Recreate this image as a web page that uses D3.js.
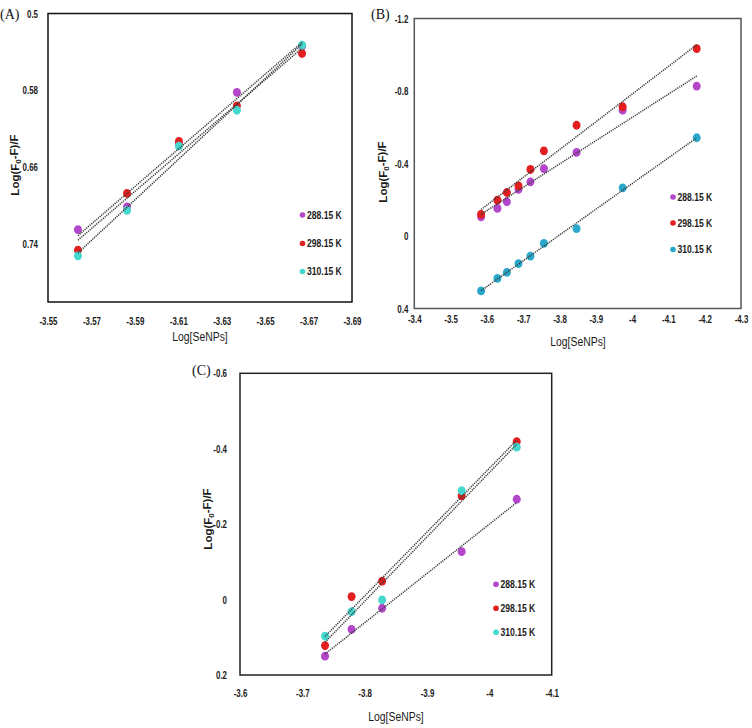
<!DOCTYPE html>
<html>
<head>
<meta charset="utf-8">
<script src="https://cdn.jsdelivr.net/npm/d3@7/dist/d3.min.js"></script>
<style>
  html, body { margin: 0; padding: 0; background: #fff; }
  svg { display: block; }
  .tick text { font-family: "Liberation Sans", Arial, sans-serif; font-weight: bold; font-size: 11px; fill: #1a1a1a; }
</style>
</head>
<body>
<svg id="chart" width="752" height="728"></svg>
<script>
// ---------------- DATA ----------------
const seriesNames = ["288.15 K", "298.15 K", "310.15 K"];

// Panel A
const xA = [-3.5638, -3.5864, -3.6103, -3.637, -3.667];
const yA288 = [0.7248, 0.701, 0.635, 0.582, 0.534];
const yA298 = [0.746, 0.687, 0.633, 0.596, 0.5416];
const yA310 = [0.752, 0.7047, 0.638, 0.6006, 0.533];
const xTicksA = [-3.55, -3.57, -3.59, -3.61, -3.63, -3.65, -3.67, -3.69];
const yTicksA = [0.5, 0.58, 0.66, 0.74];

// Panel B
const xB = [-3.584, -3.629, -3.655, -3.687, -3.72, -3.757, -3.847, -3.974, -4.178];
const yB288 = [-0.106, -0.152, -0.189, -0.257, -0.299, -0.372, -0.461, -0.694, -0.827];
const yB298 = [-0.119, -0.198, -0.24, -0.277, -0.367, -0.47, -0.611, -0.713, -1.034];
const yB310 = [0.303, 0.234, 0.201, 0.152, 0.111, 0.041, -0.041, -0.266, -0.542];
const xTicksB = [-3.4, -3.5, -3.6, -3.7, -3.8, -3.9, -4, -4.1, -4.2, -4.3];
const yTicksB = [-1.2, -0.8, -0.4, 0, 0.4];

// Panel C
const xC = [-3.7364, -3.779, -3.828, -3.9556, -4.0439];
const yC288 = [0.150, 0.079, 0.023, -0.127, -0.266];
const yC298 = [0.122, -0.008, -0.049, -0.275, -0.419];
const yC310 = [0.097, 0.032, 0.001, -0.289, -0.404];
const xTicksC = [-3.6, -3.7, -3.8, -3.9, -4, -4.1];
const yTicksC = [-0.6, -0.4, -0.2, 0, 0.2];

// ---------------- STYLE / LAYOUT ----------------
const sans = '"Liberation Sans", Arial, sans-serif';
const purple = "#B346CB", red = "#E31E1E", turq = "#44D8CF", blue = "#2AA8CB";
const SX = 0.72; // horizontal condensing for the narrow tick font

const panels = [
  { label: "(A)", lx: 0, ly: 19,
    box: {l: 48, r: 352, t: 13.5, b: 302}, xDom: [-3.55, -3.69], yDom: [0.5, 0.8],
    xTicks: xTicksA, yTicks: yTicksA, xPad: 15, yPad: 10, border: "#111",
    x: xA, ys: [yA288, yA298, yA310], colors: [purple, red, turq],
    legend: {x: 302.5, y: [215, 243.5, 271.5]},
    xTitle: {x: 200, y: 336}, yTitle: {x: 15, y: 165} },
  { label: "(B)", lx: 371, ly: 19,
    box: {l: 414.3, r: 741, t: 18.5, b: 308.5}, xDom: [-3.4, -4.3], yDom: [-1.2, 0.4],
    xTicks: xTicksB, yTicks: yTicksB, xPad: 7, yPad: 6, border: "#555",
    x: xB, ys: [yB288, yB298, yB310], colors: [purple, red, blue],
    legend: {x: 673, y: [197, 223, 249.5]},
    xTitle: {x: 578, y: 341}, yTitle: {x: 383, y: 172} },
  { label: "(C)", lx: 192, ly: 375,
    box: {l: 240, r: 551.7, t: 373.3, b: 675}, xDom: [-3.6, -4.1], yDom: [-0.6, 0.2],
    xTicks: xTicksC, yTicks: yTicksC, xPad: 14, yPad: 13, border: "#222",
    x: xC, ys: [yC288, yC298, yC310], colors: [purple, red, turq],
    legend: {x: 496, y: [584.3, 608.3, 632.3]},
    xTitle: {x: 396, y: 716}, yTitle: {x: 208, y: 519} }
];

const svg = d3.select("#chart");

function fit(xs, ys) {
  const n = xs.length, mx = d3.mean(xs), my = d3.mean(ys);
  let sxy = 0, sxx = 0;
  for (let i = 0; i < n; i++) { sxy += (xs[i]-mx)*(ys[i]-my); sxx += (xs[i]-mx)*(xs[i]-mx); }
  const m = sxy / sxx; return { m, c: my - m*mx };
}

panels.forEach(p => {
  const g = svg.append("g");
  const x = d3.scaleLinear().domain(p.xDom).range([p.box.l, p.box.r]);
  const y = d3.scaleLinear().domain(p.yDom).range([p.box.t, p.box.b]);

  // box
  g.append("rect").attr("x", p.box.l).attr("y", p.box.t)
    .attr("width", p.box.r - p.box.l).attr("height", p.box.b - p.box.t)
    .attr("fill", "none").attr("stroke", p.border).attr("stroke-width", 1.5);

  // axes
  const ax = g.append("g").attr("transform", `translate(0,${p.box.b})`)
    .call(d3.axisBottom(x).tickValues(p.xTicks).tickSize(0).tickPadding(p.xPad).tickFormat(d => String(d)));
  ax.select(".domain").remove();
  ax.selectAll(".tick text").attr("transform", `scale(${SX},1)`);
  const ay = g.append("g").attr("transform", `translate(${p.box.l},0)`)
    .call(d3.axisLeft(y).tickValues(p.yTicks).tickSize(0).tickPadding(p.yPad).tickFormat(d => String(d)));
  ay.select(".domain").remove();
  ay.selectAll(".tick text").attr("x", -p.yPad / SX).attr("transform", `scale(${SX},1)`);

  // markers
  p.ys.forEach((ys, si) => {
    g.append("g").selectAll("ellipse").data(ys).join("ellipse")
      .attr("cx", (d, i) => x(p.x[i])).attr("cy", d => y(d))
      .attr("rx", 4).attr("ry", 4.4).attr("fill", p.colors[si]);
  });

  // trend lines
  p.ys.forEach(ys => {
    const f = fit(p.x, ys);
    const x0 = d3.max(p.x), x1 = d3.min(p.x);
    g.append("line")
      .attr("x1", x(x0)).attr("y1", y(f.m*x0 + f.c))
      .attr("x2", x(x1)).attr("y2", y(f.m*x1 + f.c))
      .attr("stroke", "#3a3a3a").attr("stroke-width", 1.5).attr("stroke-dasharray", "1.2,1");
  });

  // legend
  seriesNames.forEach((name, si) => {
    g.append("circle").attr("cx", p.legend.x).attr("cy", p.legend.y[si]).attr("r", 2.8).attr("fill", p.colors[si]);
    g.append("text").attr("transform", `translate(${p.legend.x + 4.5},${p.legend.y[si]}) scale(0.78,1)`)
      .attr("dy", "0.35em")
      .attr("font-family", sans).attr("font-weight", "bold").attr("font-size", 11).attr("fill", "#1a1a1a")
      .text(name);
  });

  // titles
  g.append("text").attr("transform", `translate(${p.xTitle.x},${p.xTitle.y}) scale(0.8,1)`)
    .attr("text-anchor", "middle").attr("dy", "0.35em")
    .attr("font-family", sans).attr("font-size", 13).attr("fill", "#1a1a1a")
    .text("Log[SeNPs]");
  const yt = g.append("text").attr("transform", `translate(${p.yTitle.x},${p.yTitle.y}) rotate(-90)`)
    .attr("text-anchor", "middle").attr("dy", "0.35em")
    .attr("font-family", sans).attr("font-weight", "bold")
    .attr("font-size", 11.5).attr("fill", "#1a1a1a");
  yt.append("tspan").text("Log(F");
  yt.append("tspan").attr("font-size", 8).attr("dy", "0.25em").text("0");
  yt.append("tspan").attr("dy", "-0.25em").text("-F)/F");

  // panel label
  g.append("text").attr("x", p.lx).attr("y", p.ly)
    .attr("font-family", '"Liberation Serif", "Times New Roman", serif').attr("font-size", 14).attr("fill", "#111")
    .text(p.label);
});
</script>
</body>
</html>
